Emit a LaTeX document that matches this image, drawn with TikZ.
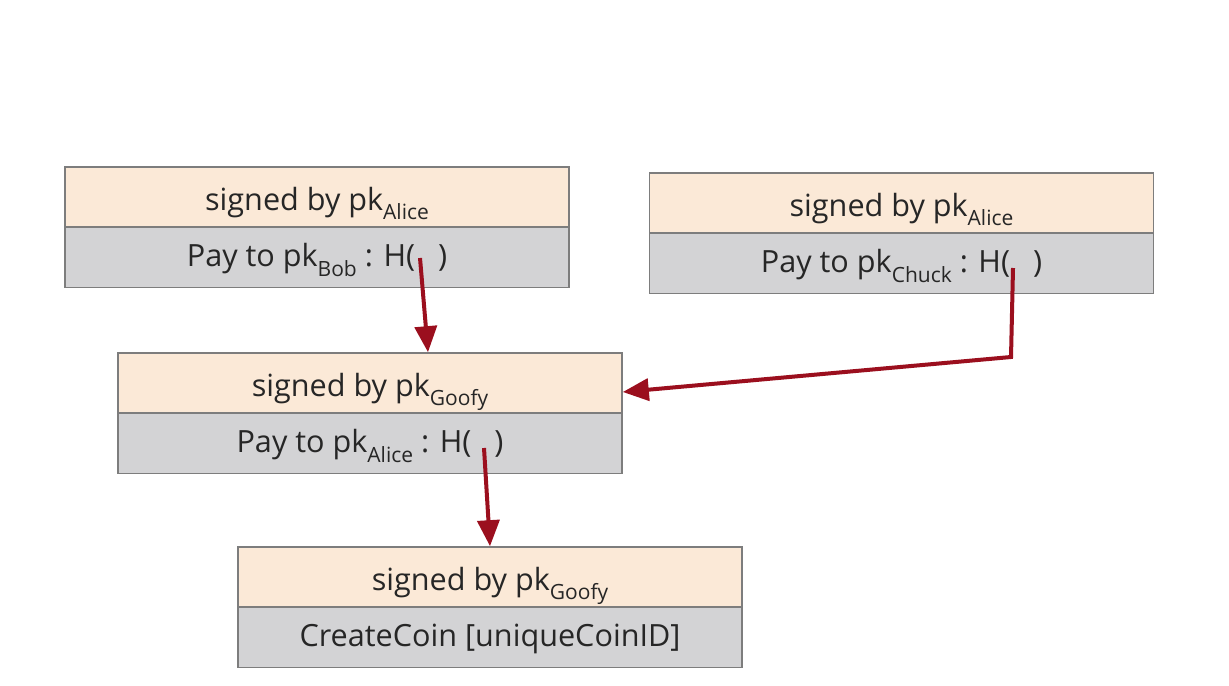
\documentclass[tikz,border=0pt]{standalone}
\usepackage{fontspec}
\setmainfont{Open Sans}
\usetikzlibrary{arrows.meta}
\definecolor{peach}{RGB}{251,233,215}
\definecolor{slate}{RGB}{211,211,213}
\definecolor{rim}{RGB}{125,125,125}
\definecolor{link}{RGB}{155,15,30}
\newcommand{\pk}[1]{pk\raisebox{-.6ex}{\fontsize{10.5}{11}\selectfont #1}}
\begin{document}
\begin{tikzpicture}[x=0.5pt, y=-0.5pt, font=\fontsize{15.3}{17}\selectfont,
    sig/.style={draw=rim, line width=0.8pt, fill=peach, minimum width=252pt, minimum height=30pt, inner sep=0pt, text=black!85, text height=13pt, text depth=0pt},
    pay/.style={sig, fill=slate, text height=11pt, text depth=2pt},
    arr/.style={draw=link, line width=2pt, -{Triangle[length=13pt, width=11pt]}}]
    \useasboundingbox[fill=white] (0,0) rectangle (1229,685);
    % first coin chain
    \node[sig] (aSig) at (317,197) {signed by \pk{Alice}};
    \node[pay] (aPay) at (317,257.5) {Pay to \pk{Bob} : H(\hspace{0.75em})};
    \node[sig] (bSig) at (901.5,203) {signed by \pk{Alice}};
    \node[pay] (bPay) at (901.5,263.5) {Pay to \pk{Chuck} : H(\hspace{0.75em})};
    \node[sig] (cSig) at (370,383) {signed by \pk{Goofy}};
    \node[pay] (cPay) at (370,443.5) {Pay to \pk{Alice} : H(\hspace{0.75em})};
    \node[sig] (dSig) at (490,577) {signed by \pk{Goofy}};
    \node[pay] (dPay) at (490,637.5) {CreateCoin [uniqueCoinID]};
    % hash pointers
    \coordinate (aH) at (420,258);
    \coordinate (bH) at (1013,268);
    \coordinate (bBend) at (1011,357);
    \coordinate (cH) at (484,448);
    \draw[arr] (aH) -- ([xshift=29pt]cSig.north);
    \draw[arr] (bH) -- (bBend) -- ([yshift=-4.5pt]cSig.east);
    \draw[arr] (cH) -- (dSig.north);
\end{tikzpicture}
\end{document}
